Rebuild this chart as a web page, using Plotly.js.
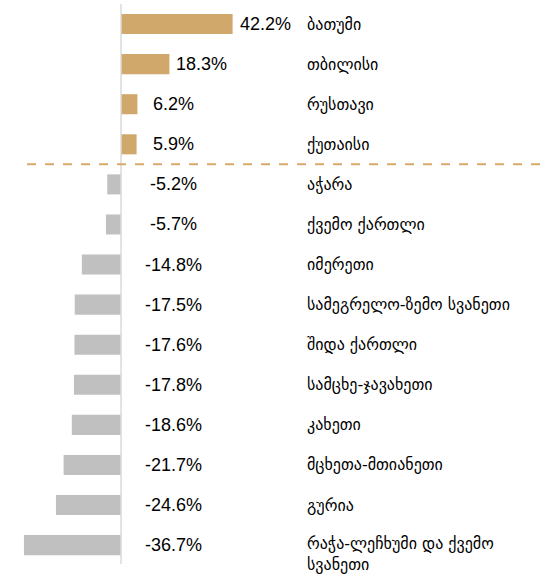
<!DOCTYPE html>
<html>
<head>
<meta charset="utf-8">
<script src="https://cdn.plot.ly/plotly-3.0.1.min.js"></script>
<style>html,body{margin:0;padding:0;background:#fff;}#chart{width:546px;height:582px;}</style>
</head>
<body>
<div id="chart"></div>
<script>
const regions = ["ბათუმი","თბილისი","რუსთავი","ქუთაისი","აჭარა","ქვემო ქართლი","იმერეთი","სამეგრელო-ზემო სვანეთი","შიდა ქართლი","სამცხე-ჯავახეთი","კახეთი","მცხეთა-მთიანეთი","გურია","რაჭა-ლეჩხუმი და ქვემო<br>სვანეთი"];
const changes = [42.2, 18.3, 6.2, 5.9, -5.2, -5.7, -14.8, -17.5, -17.6, -17.8, -18.6, -21.7, -24.6, -36.7];

const GOLD = "#D0A86C", GREY = "#C0C0C0";
const idx = regions.map((_, i) => i);

const bars = {
  type: "bar", orientation: "h",
  x: changes, y: idx, width: 0.5,
  marker: {color: changes.map(v => v >= 0 ? GOLD : GREY), line: {width: 0}},
  hoverinfo: "skip"
};

const annotations = [];
changes.forEach((v, i) => {
  const big = v > 10;
  annotations.push({
    x: big ? v : 20, y: i, xref: "x", yref: "y",
    text: v.toFixed(1) + "%", showarrow: false,
    xanchor: big ? "left" : "center", xshift: big ? 5 : 0,
    font: {family: "Liberation Sans, Arial, sans-serif", size: 18, color: "#000"}
  });
  const last = i === regions.length - 1;
  annotations.push({
    x: 305/546, y: i, xref: "paper", yref: "y",
    text: regions[i], showarrow: false, xanchor: "left", align: "left",
    yanchor: last ? "top" : "middle",
    yshift: last ? 13 : 0,
    font: {family: "DejaVu Sans, sans-serif", size: 16, color: "#000"}
  });
});

const layout = {
  width: 546, height: 582,
  margin: {l: 0, r: 0, t: 0, b: 0},
  paper_bgcolor: "#fff", plot_bgcolor: "#fff",
  showlegend: false,
  xaxis: {range: [-45.75, 160.68], visible: false, fixedrange: true},
  yaxis: {range: [13.92, -0.6], visible: false, fixedrange: true},
  shapes: [
    {type: "line", xref: "x", yref: "paper", x0: 0, x1: 0, y0: 1 - 4/582, y1: 1 - 564/582,
     line: {color: "#D9D9D9", width: 1.5}},
    {type: "line", xref: "paper", yref: "y", x0: 27/546, x1: 1, y0: 3.5, y1: 3.5,
     line: {color: "#D9A86A", width: 2, dash: "dash"}}
  ],
  annotations: annotations
};

Plotly.newPlot("chart", [bars], layout, {staticPlot: true, displayModeBar: false});
</script>
</body>
</html>
